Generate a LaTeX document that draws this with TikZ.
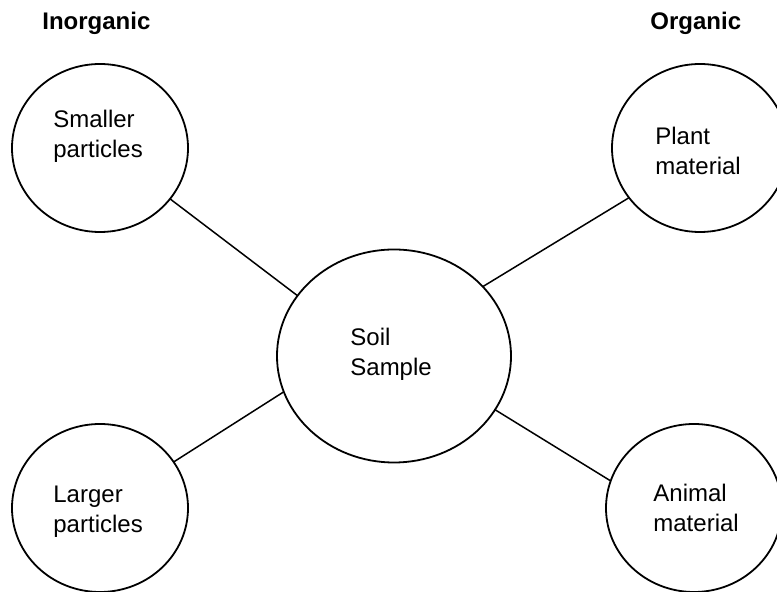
\documentclass[tikz,border=0pt]{standalone}
\usepackage{fontspec}
\setmainfont{Liberation Sans}
\usetikzlibrary{shapes.geometric}

\begin{document}
\begin{tikzpicture}[
    x=0.5pt, y=-0.5pt,
    part/.style={ellipse, draw=black, line width=0.9pt, minimum width=88pt, minimum height=84pt, inner sep=0pt, outer sep=0pt},
    sample/.style={part, minimum width=117pt, minimum height=106.5pt},
    lbl/.style={font=\fontsize{12}{15}\selectfont, align=left, anchor=west, inner sep=0pt},
    head/.style={font=\fontsize{12}{15}\selectfont\bfseries, anchor=base west, inner sep=0pt},
    link/.style={draw=black, line width=0.75pt}
  ]
  \useasboundingbox (0,0) rectangle (777,592);

  % Group headings
  \node[head] (inorg) at (42, 30) {Inorganic};
  \node[head] (org) at (650, 30) {Organic};

  % Circles
  \node[sample] (soil) at (394, 356) {};
  \node[part] (smaller) at (100, 148) {};
  \node[part] (larger) at (100, 508) {};
  \node[part] (plant) at (700, 148) {};
  \node[part] (animal) at (694, 508) {};

  % Texts in the circles
  \node[lbl] (soiltxt) at (350, 354) {Soil\\Sample};
  \node[lbl] (smallertxt) at (53, 136) {Smaller\\particles};
  \node[lbl] (largertxt) at (53, 512) {Larger\\particles};
  \node[lbl] (planttxt) at (655, 151) {Plant\\material};
  \node[lbl] (animaltxt) at (653, 508) {Animal\\material};

  % Links to the sample
  \foreach \a/\p/\b in {148/smaller/-36, 198/larger/32, 38/plant/-145, -28/animal/162} {
    \path[link] (soil.\a) -- (\p.\b);
  }

\end{tikzpicture}
\end{document}
